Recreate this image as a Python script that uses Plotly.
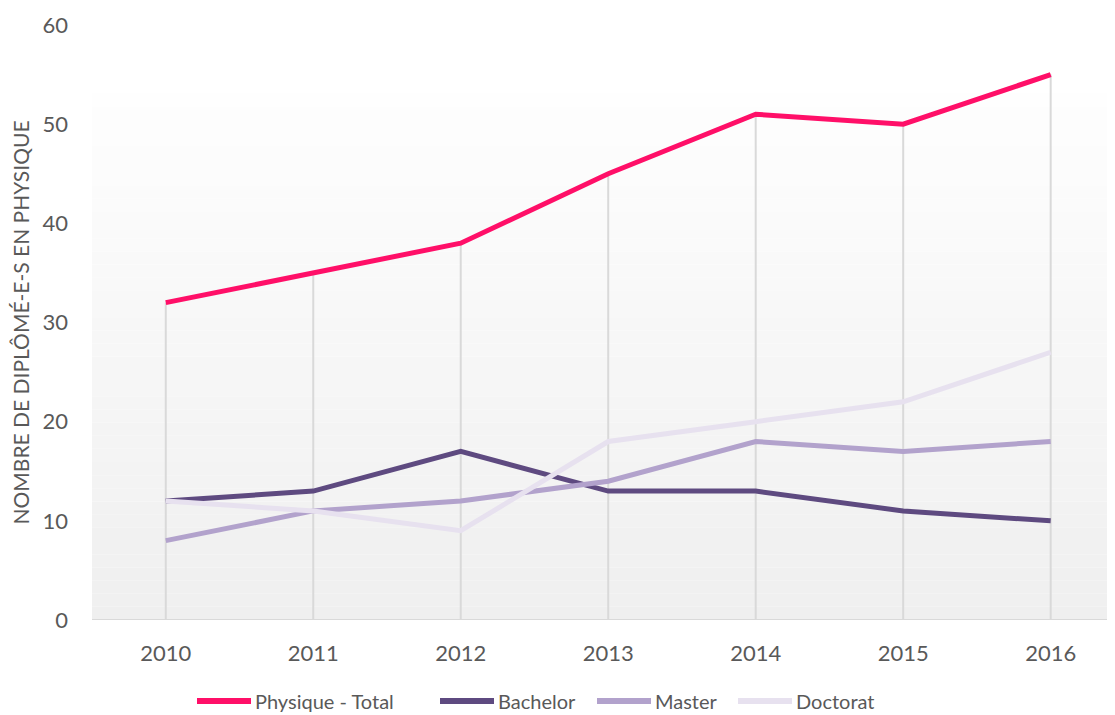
import plotly.graph_objects as go

years = ["2010", "2011", "2012", "2013", "2014", "2015", "2016"]
total = [32, 35, 38, 45, 51, 50, 55]
bachelor = [12, 13, 17, 13, 13, 11, 10]
master = [8, 11, 12, 14, 18, 17, 18]
doctorat = [12, 11, 9, 18, 20, 22, 27]

series = [
    ("Physique - Total", total, "#FF0F68"),
    ("Bachelor", bachelor, "#5E4A80"),
    ("Master", master, "#B2A2CC"),
    ("Doctorat", doctorat, "#E7E1EF"),
]

# the page body has an 8px margin, so the figure is drawn 8px in from the corner
OFF = 8
W, H = 1115 - OFF, 715 - OFF
L, R, T, B = 92 - OFF, 0, 25 - OFF, 95
pw, ph = W - L - R, H - T - B

def px2paper(px, py):
    # px, py in screenshot pixels
    return (px - OFF - L) / pw, (H - B - (py - OFF)) / ph

fig = go.Figure()

# drop lines from the highest value down to the axis
dx, dy = [], []
for i, yr in enumerate(years):
    top = max(total[i], bachelor[i], master[i], doctorat[i])
    dx += [yr, yr, None]
    dy += [0, top, None]
fig.add_trace(go.Scatter(x=dx, y=dy, mode="lines", line=dict(color="#D9D9D9", width=2),
                         showlegend=False, hoverinfo="skip"))

for name, vals, col in series:
    fig.add_trace(go.Scatter(x=years, y=vals, name=name, mode="lines",
                             line=dict(color=col, width=5), showlegend=False))

# gradient background
shapes = []
n = 40
top_val = 53.1
c0 = (254, 254, 254)
c1 = (239, 239, 239)
for k in range(n):
    y0 = top_val * k / n
    y1 = top_val * (k + 1) / n
    t = 1 - (k + 0.5) / n
    c = tuple(round(c0[j] * (1 - t) + c1[j] * t) for j in range(3))
    shapes.append(dict(type="rect", xref="paper", yref="y", x0=0, x1=1, y0=y0, y1=y1,
                       fillcolor="rgb(%d,%d,%d)" % c, line=dict(width=0), layer="below"))
shapes.append(dict(type="line", xref="paper", yref="y", x0=0, x1=1, y0=0, y1=0,
                   line=dict(color="#D9D9D9", width=2), layer="above"))

# manual legend
annotations = []
leg_y = 701
leg_starts = [197, 440, 597, 738]
for (name, vals, col), sx in zip(series, leg_starts):
    x0, yp = px2paper(sx, leg_y)
    x1, _ = px2paper(sx + 54, leg_y)
    shapes.append(dict(type="line", xref="paper", yref="paper", x0=x0, x1=x1, y0=yp, y1=yp,
                       line=dict(color=col, width=6)))
    xt, _ = px2paper(sx + 56, leg_y)
    annotations.append(dict(text=name, xref="paper", yref="paper", x=xt, y=yp,
                            xanchor="left", yanchor="middle", showarrow=False,
                            font=dict(size=20, color="#595959")))

font = "Lato, 'Open Sans', sans-serif"
fig.update_layout(
    width=W, height=H,
    margin=dict(l=L, r=R, t=T, b=B, autoexpand=False),
    paper_bgcolor="white", plot_bgcolor="white",
    shapes=shapes, annotations=annotations,
    font=dict(family=font, color="#595959", size=20),
    xaxis=dict(type="category", range=[-0.5, 6.436], showgrid=False, zeroline=False,
               showline=False, ticks="", automargin=False, ticklabelstandoff=18,
               tickfont=dict(size=22, color="#595959")),
    yaxis=dict(range=[0, 60], dtick=10, showgrid=False, zeroline=False, showline=False,
               ticks="", automargin=False, tickfont=dict(size=22, color="#595959"),
               ticklabelstandoff=23,
               title=dict(text="NOMBRE DE DIPLÔMÉ-E-S EN PHYSIQUE",
                          font=dict(size=21, color="#595959"), standoff=8)),
    showlegend=False,
)

fig.write_html("out.html")
